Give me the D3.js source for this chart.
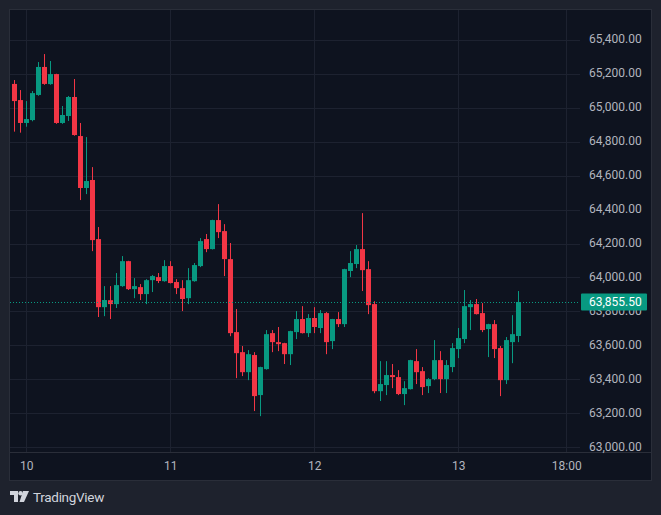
<!DOCTYPE html>
<html>
<head>
<meta charset="utf-8">
<script src="https://cdn.jsdelivr.net/npm/d3@7"></script>
<style>
  html, body { margin: 0; padding: 0; background: #1e222d; }
  svg { display: block; }
  .axis text { font-family: Roboto, "Noto Sans", sans-serif; font-size: 12px; fill: #b2b5be; }
</style>
</head>
<body>
<div id="chart"></div>
<script>
// hourly candles, first one at 22:00 on the 9th
var firstCandle = Date.UTC(2024, 5, 9, 22);
var lastPrice = 63855.50;

var opens = [65140, 65045, 64910, 64927, 65075, 65240, 65139, 65198, 64910, 64951,
  65063, 64833, 64527, 64574, 64226, 63825, 63866, 63843, 63949, 64096,
  63931, 63943, 63902, 63984, 64002, 63978, 64067, 63973, 63937, 63878,
  63978, 64067, 64226, 64167, 64338, 64273, 64108, 63678, 63560, 63442,
  63543, 63307, 63460, 63672, 63619, 63613, 63548, 63678, 63755, 63672,
  63761, 63702, 63790, 63625, 63755, 63725, 64038, 64079, 64167, 64049,
  63843, 63330, 63366, 63425, 63413, 63313, 63342, 63507, 63448, 63360,
  63401, 63513, 63401, 63472, 63578, 63637, 63825, 63843, 63790, 63696,
  63725, 63584, 63395, 63619, 63655];
var highs = [65163, 65104, 65039, 65098, 65269, 65316, 65275, 65200, 65010, 65069,
  65169, 64910, 64827, 64650, 64297, 63949, 63949, 64026, 64126, 64098,
  63996, 63961, 63990, 64014, 64026, 64102, 64096, 63990, 63984, 64055,
  64085, 64232, 64256, 64340, 64432, 64314, 64203, 63814, 63596, 63572,
  63560, 63474, 63690, 63690, 63708, 63615, 63686, 63802, 63831, 63784,
  63825, 63808, 63796, 63756, 63796, 64051, 64155, 64191, 64379, 64096,
  63860, 63507, 63507, 63490, 63454, 63389, 63515, 63578, 63472, 63407,
  63631, 63566, 63513, 63613, 63702, 63926, 63867, 63873, 63849, 63727,
  63749, 63596, 63649, 63778, 63920];
var lows = [64859, 64853, 64888, 64920, 65070, 65135, 65135, 64905, 64905, 64922,
  64835, 64456, 64491, 64155, 63767, 63772, 63755, 63820, 63945, 63926,
  63878, 63867, 63843, 63914, 63967, 63975, 63965, 63902, 63802, 63843,
  63975, 64061, 64149, 64165, 64232, 64008, 63654, 63407, 63419, 63395,
  63213, 63183, 63457, 63560, 63566, 63490, 63484, 63637, 63670, 63649,
  63672, 63672, 63548, 63578, 63708, 63708, 64002, 64055, 63920, 63784,
  63318, 63272, 63307, 63348, 63307, 63248, 63340, 63372, 63307, 63319,
  63395, 63319, 63319, 63442, 63525, 63613, 63690, 63782, 63678, 63531,
  63525, 63301, 63372, 63495, 63619];
var closes = [65039, 64910, 64933, 65086, 65240, 65140, 65198, 64910, 64957, 65063,
  64839, 64527, 64568, 64220, 63825, 63867, 63843, 63955, 64096, 63931,
  63949, 63902, 63984, 64008, 63979, 64067, 63967, 63937, 63873, 63984,
  64073, 64214, 64167, 64338, 64267, 64108, 63672, 63554, 63442, 63548,
  63301, 63472, 63666, 63619, 63607, 63548, 63684, 63755, 63672, 63761,
  63708, 63790, 63619, 63755, 63725, 64049, 64085, 64167, 64043, 63837,
  63330, 63372, 63425, 63413, 63313, 63348, 63513, 63442, 63354, 63401,
  63513, 63401, 63484, 63584, 63643, 63831, 63843, 63784, 63690, 63725,
  63578, 63395, 63631, 63666, 63855.5];

var priceTicks = d3.range(63000, 65401, 200);
var timeTicks = [Date.UTC(2024, 5, 10), Date.UTC(2024, 5, 11), Date.UTC(2024, 5, 12),
  Date.UTC(2024, 5, 13), Date.UTC(2024, 5, 13, 18)];

var upColor = "#089981";
var downColor = "#f23645";
var gridColor = "#1d2230";

var width = 661, height = 515;
var plot = { left: 10, top: 10, right: 580, bottom: 452 };

var candles = opens.map(function(o, i) {
    return { t: new Date(firstCandle + i * 3600e3), o: o, h: highs[i], l: lows[i], c: closes[i] };
});

var x = d3.scaleUtc()
    .domain([new Date(firstCandle), new Date(timeTicks[4])])
    .range([14.3, 566.3]);

var y = d3.scaleLinear()
    .domain([63000, 65400])
    .range([447.2, 39.8]);

var svg = d3.select("#chart")
    .append("svg")
    .attr("width", width)
    .attr("height", height);

// chart panel
svg.append("rect")
    .attr("x", 9.5).attr("y", 9.5)
    .attr("width", 642).attr("height", 471)
    .attr("fill", "#0e131f")
    .attr("stroke", "#2a2e39");

svg.append("defs").append("clipPath")
    .attr("id", "plot-clip")
    .append("rect")
    .attr("x", plot.left).attr("y", plot.top)
    .attr("width", plot.right - plot.left)
    .attr("height", plot.bottom - plot.top);

// grid
svg.append("g").selectAll("line")
    .data(priceTicks)
    .join("line")
    .attr("x1", plot.left).attr("x2", plot.right)
    .attr("y1", function(d) { return Math.round(y(d)) + 0.5; })
    .attr("y2", function(d) { return Math.round(y(d)) + 0.5; })
    .attr("stroke", gridColor);

svg.append("g").selectAll("line")
    .data(timeTicks)
    .join("line")
    .attr("y1", plot.top).attr("y2", plot.bottom)
    .attr("x1", function(d) { return Math.round(x(d)) + 0.5; })
    .attr("x2", function(d) { return Math.round(x(d)) + 0.5; })
    .attr("stroke", gridColor);

// time axis separator
svg.append("line")
    .attr("x1", 10).attr("x2", 651)
    .attr("y1", plot.bottom + 0.5).attr("y2", plot.bottom + 0.5)
    .attr("stroke", "#2a2e39");

// candles
var candleG = svg.append("g").attr("clip-path", "url(#plot-clip)");

var candle = candleG.selectAll("g")
    .data(candles)
    .join("g")
    .attr("fill", function(d) { return d.c >= d.o ? upColor : downColor; });

candle.append("rect")
    .attr("x", function(d) { return Math.round(x(d.t)); })
    .attr("width", 1)
    .attr("y", function(d) { return y(d.h); })
    .attr("height", function(d) { return Math.max(1, y(d.l) - y(d.h)); });

candle.append("rect")
    .attr("x", function(d) { return Math.round(x(d.t)) - 2; })
    .attr("width", 5)
    .attr("y", function(d) { return y(Math.max(d.o, d.c)); })
    .attr("height", function(d) { return Math.max(1, Math.abs(y(d.o) - y(d.c))); });

// last price line
svg.append("line")
    .attr("x1", plot.left).attr("x2", plot.right)
    .attr("y1", Math.round(y(lastPrice)) + 0.5)
    .attr("y2", Math.round(y(lastPrice)) + 0.5)
    .attr("stroke", upColor)
    .attr("stroke-dasharray", "1,2");

// price scale
var yAxis = d3.axisRight(y)
    .tickValues(priceTicks)
    .tickFormat(d3.format(",.2f"))
    .tickSizeInner(0)
    .tickSizeOuter(0)
    .tickPadding(0);

svg.append("g")
    .attr("class", "axis")
    .attr("transform", "translate(589,0)")
    .call(yAxis)
    .call(function(g) { g.select(".domain").remove(); })
    .selectAll("text")
    .attr("dy", "0.24em");

// time scale
var xAxis = d3.axisBottom(x)
    .tickValues(timeTicks.map(function(t) { return new Date(t); }))
    .tickFormat(function(d) { return d.getUTCHours() ? d3.utcFormat("%H:%M")(d) : d3.utcFormat("%-d")(d); })
    .tickSizeInner(0)
    .tickSizeOuter(0)
    .tickPadding(0);

svg.append("g")
    .attr("class", "axis")
    .attr("transform", "translate(0,461)")
    .call(xAxis)
    .call(function(g) { g.select(".domain").remove(); });

// last price label
var priceLabel = svg.append("g")
    .attr("transform", "translate(0," + y(lastPrice) + ")");

priceLabel.append("rect")
    .attr("x", 581).attr("y", -8.5)
    .attr("width", 66).attr("height", 17)
    .attr("rx", 1)
    .attr("fill", upColor);

priceLabel.append("text")
    .attr("x", 589).attr("dy", "0.35em")
    .attr("fill", "#ffffff")
    .style("font-family", "Roboto, sans-serif")
    .style("font-size", "12px")
    .text(d3.format(",.2f")(lastPrice));

// TradingView mark
var logo = svg.append("g")
    .attr("transform", "translate(10,491)")
    .attr("fill", "#d1d4dc");

logo.append("path").attr("d", "M0,0 H8 V11 H4 V4 H0 Z");
logo.append("circle").attr("cx", 10.5).attr("cy", 2.2).attr("r", 2.2);
logo.append("path").attr("d", "M13,0 H19 L14,11 H9.5 Z");

svg.append("text")
    .attr("x", 33).attr("y", 502)
    .attr("fill", "#d1d4dc")
    .style("font-family", "Roboto, sans-serif")
    .style("font-size", "13.5px")
    .style("letter-spacing", "-0.3px")
    .text("TradingView");
</script>
</body>
</html>
